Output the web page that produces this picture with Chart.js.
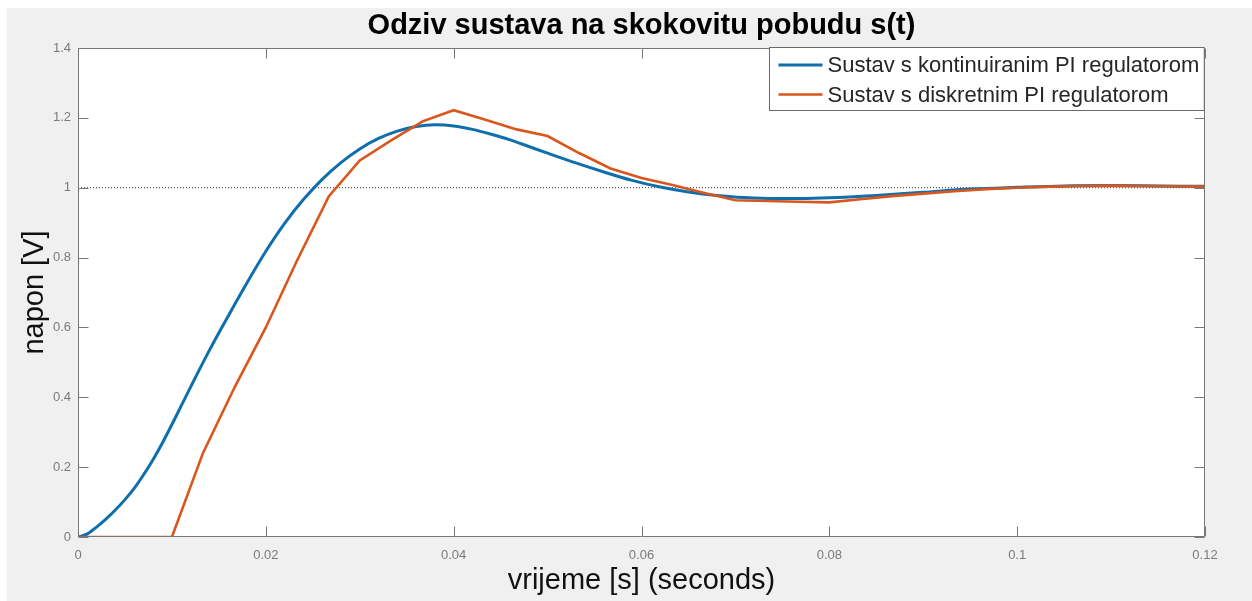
<!DOCTYPE html>
<html><head><meta charset="utf-8">
<script src="https://cdn.jsdelivr.net/npm/chart.js@4.4.1/dist/chart.umd.min.js"></script>
<style>html,body{margin:0;padding:0;background:#fff;overflow:hidden}canvas{display:block}</style>
</head><body><canvas id="c" width="1252" height="601"></canvas>
<script>
const titleText = 'Odziv sustava na skokovitu pobudu s(t)';
const xAxisTitle = 'vrijeme [s] (seconds)';
const yAxisTitle = 'napon [V]';
const seriesNames = ['Sustav s kontinuiranim PI regulatorom', 'Sustav s diskretnim PI regulatorom'];

const contT = [0, 0.001, 0.002, 0.003, 0.004, 0.005, 0.006, 0.007, 0.008, 0.009, 0.010, 0.011, 0.012, 0.014, 0.016, 0.018, 0.020, 0.022, 0.024, 0.026, 0.028, 0.030, 0.032, 0.034, 0.036, 0.038, 0.040, 0.042, 0.044, 0.046, 0.048, 0.050, 0.053, 0.056, 0.059, 0.062, 0.065, 0.068, 0.071, 0.074, 0.077, 0.080, 0.085, 0.090, 0.095, 0.100, 0.105, 0.110, 0.115, 0.120];
const contY = [0, 0.009, 0.029, 0.052, 0.078, 0.107, 0.140, 0.179, 0.222, 0.270, 0.322, 0.376, 0.430, 0.535, 0.633, 0.728, 0.818, 0.898, 0.966, 1.024, 1.072, 1.111, 1.141, 1.162, 1.175, 1.180, 1.177, 1.167, 1.153, 1.137, 1.118, 1.099, 1.071, 1.045, 1.021, 1.002, 0.988, 0.978, 0.972, 0.969, 0.969, 0.971, 0.978, 0.987, 0.996, 1.001, 1.005, 1.006, 1.005, 1.004];

const discT = [0, 0.01, 0.0133, 0.0167, 0.02, 0.0233, 0.0267, 0.03, 0.0333, 0.0367, 0.04, 0.0433, 0.0467, 0.05, 0.0533, 0.0567, 0.06, 0.0633, 0.0667, 0.07, 0.0733, 0.0767, 0.08, 0.0833, 0.0867, 0.09, 0.0933, 0.0967, 0.1, 0.1033, 0.1067, 0.11, 0.1133, 0.1167, 0.12];
const discY = [0, 0, 0.24, 0.43, 0.6, 0.79, 0.975, 1.078, 1.135, 1.19, 1.222, 1.195, 1.167, 1.148, 1.1, 1.055, 1.028, 1.008, 0.985, 0.964, 0.962, 0.96, 0.958, 0.967, 0.976, 0.983, 0.99, 0.996, 1.0, 1.003, 1.005, 1.006, 1.005, 1.004, 1.003];

const refT = [0, 0.12];
const refY = [1, 1];

const xTickValues = [0, 0.02, 0.04, 0.06, 0.08, 0.1, 0.12];
const xTickLabels = ['0', '0.02', '0.04', '0.06', '0.08', '0.1', '0.12'];
const yTickValues = [0, 0.2, 0.4, 0.6, 0.8, 1, 1.2, 1.4];
const yTickLabels = ['0', '0.2', '0.4', '0.6', '0.8', '1', '1.2', '1.4'];

const toPts = (t, y) => t.map((v, i) => ({x: v, y: y[i]}));
const FONT = '"Liberation Sans", Arial, sans-serif';
const AXIS = '#777777';

const bgPlugin = {
  id: 'bg',
  beforeDraw(chart) {
    const {ctx, chartArea: a} = chart;
    ctx.save();
    ctx.fillStyle = '#ffffff';
    ctx.fillRect(0, 0, chart.width, chart.height);
    ctx.fillStyle = '#f0f0f0';
    ctx.fillRect(7, 8, chart.width - 7, chart.height - 8);
    ctx.fillStyle = '#ffffff';
    ctx.fillRect(a.left, a.top, a.right - a.left, a.bottom - a.top);
    ctx.restore();
  }
};

const framePlugin = {
  id: 'frame',
  afterDatasetsDraw(chart) {
    const {ctx, chartArea: a, scales: {x, y}} = chart;
    ctx.save();
    ctx.strokeStyle = AXIS;
    ctx.lineWidth = 1;
    ctx.beginPath();
    const L = Math.round(a.left) + 0.5, R = Math.round(a.right) - 0.5;
    const T = Math.round(a.top) + 0.5, B = Math.round(a.bottom) - 0.5;
    ctx.rect(L, T, R - L, B - T);
    const tl = 10;
    xTickValues.forEach(v => {
      const px = Math.round(x.getPixelForValue(v)) + 0.5;
      ctx.moveTo(px, B); ctx.lineTo(px, B - tl);
      ctx.moveTo(px, T); ctx.lineTo(px, T + tl);
    });
    yTickValues.forEach(v => {
      const py = Math.round(y.getPixelForValue(v)) + 0.5;
      ctx.moveTo(L, py); ctx.lineTo(L + tl, py);
      ctx.moveTo(R, py); ctx.lineTo(R - tl, py);
    });
    ctx.stroke();

    // legend
    const items = chart.data.datasets.filter(d => !d.hideInLegend);
    ctx.font = '22px ' + FONT;
    let maxW = 0;
    items.forEach(d => { maxW = Math.max(maxW, ctx.measureText(d.label).width); });
    const boxW = 58 + maxW + 5, boxH = 63;
    const bx = Math.round(a.right - 1 - boxW) + 0.5, by = Math.round(a.top) - 0.5;
    ctx.fillStyle = '#ffffff';
    ctx.fillRect(bx, by, boxW, boxH);
    ctx.strokeStyle = '#6a6a6a';
    ctx.lineWidth = 1;
    ctx.strokeRect(bx, by, boxW, boxH);
    ctx.textBaseline = 'middle';
    ctx.textAlign = 'left';
    items.forEach((d, i) => {
      const cy = by + 17.5 + i * 29.5;
      ctx.strokeStyle = d.borderColor;
      ctx.lineWidth = d.borderWidth;
      ctx.beginPath();
      ctx.moveTo(bx + 9, cy); ctx.lineTo(bx + 53, cy);
      ctx.stroke();
      ctx.fillStyle = '#262626';
      ctx.fillText(d.label, bx + 58, cy + 1);
    });
    ctx.restore();
  }
};

new Chart(document.getElementById('c'), {
  type: 'line',
  data: {
    datasets: [
      { label: seriesNames[0], data: toPts(contT, contY), borderColor: '#0f6fad', borderWidth: 3, pointRadius: 0, cubicInterpolationMode: 'monotone', fill: false, order: 2 },
      { label: seriesNames[1], data: toPts(discT, discY), borderColor: '#d9561c', borderWidth: 2.6, pointRadius: 0, tension: 0, fill: false, order: 1 },
      { label: 'ref', hideInLegend: true, data: toPts(refT, refY), borderColor: '#333333', borderWidth: 1, borderDash: [1, 2], pointRadius: 0, fill: false, order: 3 }
    ]
  },
  options: {
    responsive: false,
    devicePixelRatio: 1,
    animation: false,
    events: [],
    layout: { padding: { left: 0, top: 0, right: 47, bottom: 0 } },
    plugins: {
      legend: { display: false },
      tooltip: { enabled: false },
      title: {
        display: true, fullSize: false, text: titleText, color: '#000000',
        font: { family: FONT, size: 29, weight: 'bold', lineHeight: 1.2 },
        padding: { top: 8.6, bottom: 4.6 }
      }
    },
    scales: {
      x: {
        type: 'linear', min: 0, max: 0.12,
        afterBuildTicks: s => { s.ticks = xTickValues.map(v => ({value: v})); },
        afterFit: s => { s.height = 64; },
        grid: { display: false, drawTicks: false },
        border: { display: false },
        ticks: { padding: 11, color: '#7a7a7a', font: { family: FONT, size: 13 }, maxRotation: 0, autoSkip: false,
          callback: (v, i) => xTickLabels[i] },
        title: { display: true, text: xAxisTitle, color: '#111111', font: { family: FONT, size: 29, lineHeight: 1.2 }, padding: { top: 0, bottom: 3 } }
      },
      y: {
        type: 'linear', min: 0, max: 1.4,
        afterBuildTicks: s => { s.ticks = yTickValues.map(v => ({value: v})); },
        afterFit: s => { s.width = 78; },
        grid: { display: false, drawTicks: false },
        border: { display: false },
        ticks: { padding: 7, color: '#7a7a7a', font: { family: FONT, size: 13 }, autoSkip: false,
          callback: (v, i) => yTickLabels[i] },
        title: { display: true, text: yAxisTitle, color: '#111111', font: { family: FONT, size: 29, lineHeight: 1.2 }, padding: { top: 17.6, bottom: 0 } }
      }
    }
  },
  plugins: [bgPlugin, framePlugin]
});
</script>
</body></html>
